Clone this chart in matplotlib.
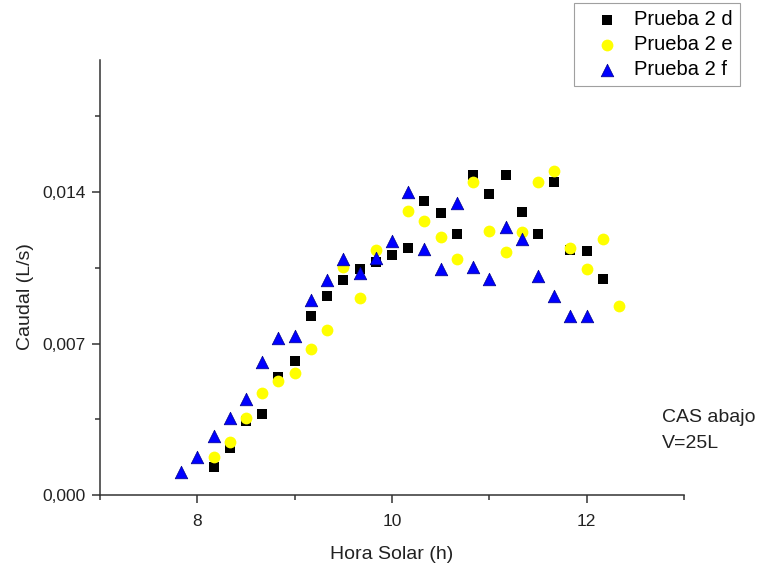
import matplotlib
matplotlib.use('Agg')
import matplotlib.pyplot as plt
from matplotlib.ticker import FixedLocator, FuncFormatter

plt.rcParams['font.family'] = ['Liberation Sans', 'DejaVu Sans']

# hora solar (h), one reading every 10 minutes
hora_d = [8.1667, 8.3333, 8.5, 8.6667, 8.8333, 9.0, 9.1667, 9.3333, 9.5, 9.6667,
          9.8333, 10.0, 10.1667, 10.3333, 10.5, 10.6667, 10.8333, 11.0, 11.1667,
          11.3333, 11.5, 11.6667, 11.8333, 12.0, 12.1667]
caudal_d = [0.00131, 0.00216, 0.00342, 0.00372, 0.00547, 0.00620, 0.00827, 0.00919,
            0.00993, 0.01044, 0.01076, 0.01109, 0.01141, 0.01360, 0.01303, 0.01204,
            0.01477, 0.01391, 0.01477, 0.01306, 0.01207, 0.01445, 0.01132, 0.01127,
            0.00997]

hora_e = [8.1667, 8.3333, 8.5, 8.6667, 8.8333, 9.0, 9.1667, 9.3333, 9.5, 9.6667,
          9.8333, 10.1667, 10.3333, 10.5, 10.6667, 10.8333, 11.0, 11.1667, 11.3333,
          11.5, 11.6667, 11.8333, 12.0, 12.1667, 12.3333]
caudal_e = [0.00177, 0.00246, 0.00354, 0.00473, 0.00527, 0.00564, 0.00675, 0.00762,
            0.01052, 0.00910, 0.01133, 0.01311, 0.01267, 0.01191, 0.01090, 0.01447,
            0.01221, 0.01124, 0.01214, 0.01446, 0.01495, 0.01140, 0.01043, 0.01181,
            0.00875]

hora_f = [7.8333, 8.0, 8.1667, 8.3333, 8.5, 8.6667, 8.8333, 9.0, 9.1667, 9.3333,
          9.5, 9.6667, 9.8333, 10.0, 10.1667, 10.3333, 10.5, 10.6667, 10.8333, 11.0,
          11.1667, 11.3333, 11.5, 11.6667, 11.8333, 12.0]
caudal_f = [0.00108, 0.00176, 0.00273, 0.00357, 0.00444, 0.00614, 0.00724, 0.00733,
            0.00901, 0.00993, 0.01089, 0.01024, 0.01097, 0.01175, 0.01400, 0.01135,
            0.01044, 0.01350, 0.01055, 0.00997, 0.01240, 0.01183, 0.01012, 0.00921,
            0.00828, 0.00828]

labels = ['Prueba 2 d', 'Prueba 2 e', 'Prueba 2 f']
x_major = [8, 10, 12]
x_minor = [7, 9, 11, 13]
y_major = [0.0, 0.007, 0.014]
y_minor = [0.0035, 0.0105, 0.0175]

W, H = 761, 564
fig = plt.figure(figsize=(W / 100, H / 100), dpi=100)
ax = fig.add_axes([100 / W, 1 - 495 / H, 584 / W, 435 / H])

ax.scatter(hora_d, caudal_d, marker='s', s=55, color='black', linewidths=0, label=labels[0])
ax.scatter(hora_e, caudal_e, marker='o', s=72, color='#ffff00', linewidths=0, label=labels[1])
ax.scatter(hora_f, caudal_f, marker='^', s=82, color='#0000ff', edgecolors='#00008b',
           linewidths=0.5, label=labels[2])

ax.set_xlim(7, 13)
ax.set_ylim(0, 0.0201)
ax.xaxis.set_major_locator(FixedLocator(x_major))
ax.xaxis.set_minor_locator(FixedLocator(x_minor))
ax.yaxis.set_major_locator(FixedLocator(y_major))
ax.yaxis.set_minor_locator(FixedLocator(y_minor))
ax.yaxis.set_major_formatter(FuncFormatter(lambda v, p: f'{v:.3f}'.replace('.', ',')))

for s in ['top', 'right']:
    ax.spines[s].set_visible(False)
for s in ['left', 'bottom']:
    ax.spines[s].set_color('#333333')
    ax.spines[s].set_linewidth(1.1)
ax.tick_params(which='major', direction='out', length=6, width=1.1, color='#333333',
               labelsize=12.5, labelcolor='#222222', pad=4)
ax.tick_params(which='minor', direction='out', length=3.5, width=1.1, color='#333333')
ax.tick_params(axis='x', which='major', pad=8)

ax.set_xlabel('Hora Solar (h)', fontsize=14, color='#222222', labelpad=12)
ax.set_ylabel('Caudal (L/s)', fontsize=14, color='#222222')
ax.yaxis.set_label_coords((34 - 100) / 584, (495 - 297) / 435)

fig.text(662 / W, 1 - 417 / H, 'CAS abajo', fontsize=14, color='#222222', va='center')
fig.text(662 / W, 1 - 443 / H, 'V=25L', fontsize=14, color='#222222', va='center')

leg = fig.legend(loc='upper right', bbox_to_anchor=(740 / W, 1 - 3 / H), fontsize=14.5,
                 frameon=True, fancybox=False, borderaxespad=0, labelspacing=0.3,
                 handletextpad=0.05, borderpad=0.35, handlelength=2.6)
leg.get_frame().set_edgecolor('#888888')
leg.get_frame().set_linewidth(0.8)

fig.savefig('out.png', dpi=100)
